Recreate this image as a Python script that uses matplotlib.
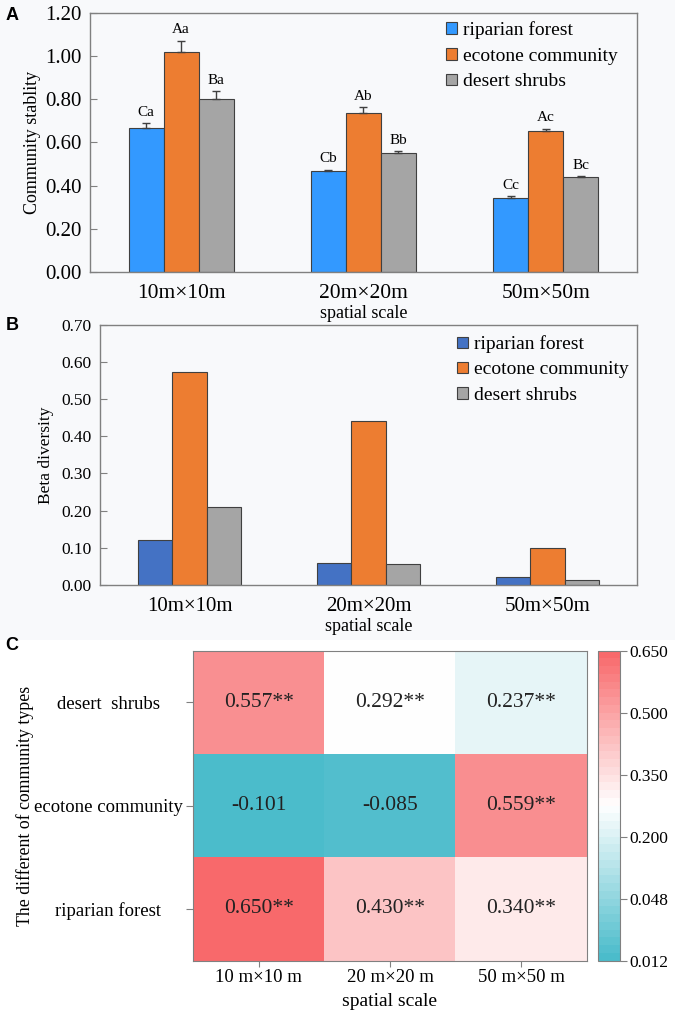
import numpy as np
import matplotlib
matplotlib.use("Agg")
import matplotlib.pyplot as plt
from matplotlib.patches import Patch, Rectangle
from matplotlib.colors import LinearSegmentedColormap, TwoSlopeNorm, Normalize
import matplotlib.cm as cm

plt.rcParams['font.family'] = ['Liberation Serif', 'DejaVu Serif']

# data
communities = ["riparian forest", "ecotone community", "desert shrubs"]
scales = ["10m×10m", "20m×20m", "50m×50m"]

# panel A: community stability (mean, upper error, letters)
stab_riparian = [0.666, 0.468, 0.341]
stab_ecotone = [1.018, 0.738, 0.652]
stab_desert = [0.800, 0.550, 0.442]
err_riparian = [0.024, 0.006, 0.011]
err_ecotone = [0.054, 0.025, 0.012]
err_desert = [0.039, 0.010, 0.003]
let_riparian = ["Ca", "Cb", "Cc"]
let_ecotone = ["Aa", "Ab", "Ac"]
let_desert = ["Ba", "Bb", "Bc"]

# panel B: beta diversity
beta_riparian = [0.121, 0.058, 0.021]
beta_ecotone = [0.573, 0.440, 0.100]
beta_desert = [0.210, 0.056, 0.013]

# panel C: heatmap (rows top->bottom)
heat_rows = ["desert  shrubs", "ecotone community", "riparian forest"]
heat_cols = ["10 m×10 m", "20 m×20 m", "50 m×50 m"]
heat_vals = np.array([[0.557, 0.292, 0.237],
                      [-0.101, -0.085, 0.559],
                      [0.650, 0.430, 0.340]])
heat_sig = [["**", "**", "**"],
            ["", "", "**"],
            ["**", "**", "**"]]
cbar_labels = ["0.012", "0.048", "0.200", "0.350", "0.500", "0.650"]

colors_a = ["#3399FF", "#ED7D31", "#A5A5A5"]
colors_b = ["#4472C4", "#ED7D31", "#A5A5A5"]
bg = "#F8F9FB"
spine_col = "#808080"

fig = plt.figure(figsize=(6.75, 10.11), dpi=100)
fig.patch.set_facecolor("white")
fig.patches.append(Rectangle((0, 0.367), 1, 0.633, transform=fig.transFigure,
                             facecolor=bg, edgecolor="none", zorder=-10))

x = np.arange(len(scales))
w = 0.192


def style_bar_axes(ax, ysize, xsize):
    ax.set_facecolor(bg)
    for s in ax.spines.values():
        s.set_color(spine_col)
        s.set_linewidth(1)
    ax.tick_params(axis="y", direction="in", length=5, color=spine_col, labelsize=ysize, pad=6)
    ax.tick_params(axis="x", length=0, labelsize=xsize, pad=9)
    ax.set_xlim(-0.5, 2.5)
    ax.set_xticks(x)
    ax.set_xticklabels(scales)


# ---- panel A
axA = fig.add_axes([0.1333, 0.7310, 0.8104, 0.2562])
style_bar_axes(axA, 15, 15.5)
seriesA = [(stab_riparian, err_riparian, let_riparian),
           (stab_ecotone, err_ecotone, let_ecotone),
           (stab_desert, err_desert, let_desert)]
for i, (vals, errs, lets) in enumerate(seriesA):
    pos = x + (i - 1) * w
    axA.bar(pos, vals, width=w, color=colors_a[i], edgecolor="#404040", linewidth=0.8,
            yerr=[np.zeros(3), errs], capsize=3.2,
            error_kw=dict(ecolor="#404040", elinewidth=1, capthick=1), zorder=2)
    for p, v, e, t in zip(pos, vals, errs, lets):
        axA.annotate(t, (p, v + e), xytext=(0, 3), textcoords="offset points",
                     ha="center", va="bottom", fontsize=11)
axA.set_ylim(0, 1.2)
axA.set_yticks(np.arange(0, 1.21, 0.2))
axA.set_yticklabels([f"{v:.2f}" for v in np.arange(0, 1.21, 0.2)])
axA.set_ylabel("Community stablity", fontsize=13, labelpad=3)
axA.set_xlabel("spatial scale", fontsize=13, labelpad=1)
handlesA = [Patch(facecolor=c, edgecolor="#404040", linewidth=0.8) for c in colors_a]
axA.legend(handlesA, communities, loc="upper left", bbox_to_anchor=(0.632, 1.01),
           frameon=False, fontsize=14, handlelength=0.55, handleheight=0.55,
           handletextpad=0.3, labelspacing=0.45, borderaxespad=0.15)

# ---- panel B
axB = fig.add_axes([0.1481, 0.4214, 0.7956, 0.2574])
style_bar_axes(axB, 12.5, 15)
seriesB = [beta_riparian, beta_ecotone, beta_desert]
for i, vals in enumerate(seriesB):
    pos = x + (i - 1) * w
    axB.bar(pos, vals, width=w, color=colors_b[i], edgecolor="#404040", linewidth=0.8, zorder=2)
axB.set_ylim(0, 0.7)
axB.set_yticks(np.arange(0, 0.71, 0.1))
axB.set_yticklabels([f"{v:.2f}" for v in np.arange(0, 0.71, 0.1)])
axB.set_ylabel("Beta diversity", fontsize=12.5, labelpad=5)
axB.set_xlabel("spatial scale", fontsize=13, labelpad=1)
handlesB = [Patch(facecolor=c, edgecolor="#404040", linewidth=0.8) for c in colors_b]
axB.legend(handlesB, communities, loc="upper left", bbox_to_anchor=(0.645, 1.0),
           frameon=False, fontsize=14, handlelength=0.55, handleheight=0.55,
           handletextpad=0.3, labelspacing=0.42, borderaxespad=0.15)

# ---- panel C
cmap = LinearSegmentedColormap.from_list("tw_r", ["#4BBCCB", "#FFFFFF", "#F8696B"])
norm = TwoSlopeNorm(vmin=-0.101, vcenter=0.292, vmax=0.650)
axC = fig.add_axes([0.2859, 0.0498, 0.5837, 0.3066])
axC.imshow(heat_vals, cmap=cmap, norm=norm, aspect="auto")
for r in range(heat_vals.shape[0]):
    for c in range(heat_vals.shape[1]):
        axC.text(c, r, f"{heat_vals[r, c]:.3f}{heat_sig[r][c]}", ha="center", va="center",
                 fontsize=15.5, color="#222222")
axC.set_xticks(range(len(heat_cols)))
axC.set_xticklabels(heat_cols)
axC.set_yticks(range(len(heat_rows)))
axC.set_yticklabels(heat_rows)
for lab in axC.get_yticklabels():
    lab.set_horizontalalignment("center")
axC.tick_params(axis="y", length=5, color=spine_col, labelsize=13.5, pad=56)
axC.tick_params(axis="x", length=4, color=spine_col, labelsize=13.5, pad=2)
for s in axC.spines.values():
    s.set_color(spine_col)
axC.set_xlabel("spatial scale", fontsize=14, labelpad=5)
axC.set_ylabel("The different of community types", fontsize=12.8, labelpad=0)

cax = fig.add_axes([0.8859, 0.0498, 0.0326, 0.3066])
sm = cm.ScalarMappable(norm=Normalize(0, 1), cmap=cmap.resampled(40))
cb = fig.colorbar(sm, cax=cax)
cb.set_ticks(np.linspace(0, 1, len(cbar_labels)))
cb.set_ticklabels(cbar_labels)
cb.outline.set_edgecolor(spine_col)
cax.tick_params(length=5, color=spine_col, labelsize=12.5, pad=2)

# panel letters
for lab, yy in [("A", 0.993), ("B", 0.686), ("C", 0.370)]:
    fig.text(0.008, yy, lab, fontsize=13, fontweight="bold", family="Liberation Sans",
             ha="left", va="top")

fig.savefig("out.png", dpi=100, facecolor=fig.get_facecolor())
